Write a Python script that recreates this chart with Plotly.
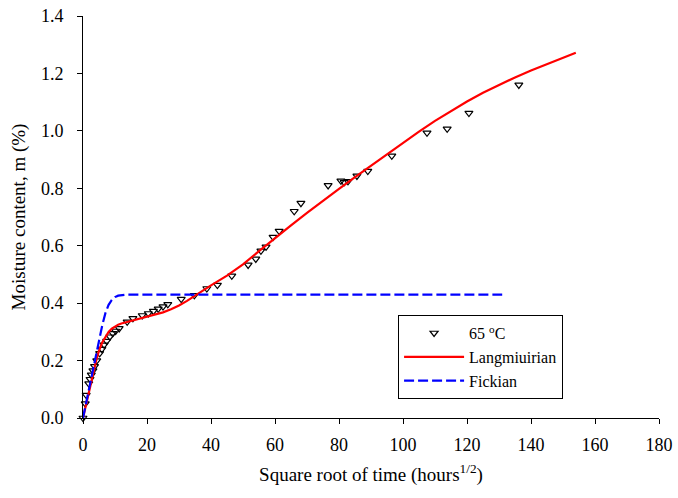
import plotly.graph_objects as go

# Measured data (65 °C)
data_x = [0, 0.7, 1.0, 1.8, 2.2, 2.6, 3.1, 3.6, 4.3, 5.2, 5.9, 6.6, 7.4, 8.4, 9.3, 10.2, 11.3,
          13.8, 15.6, 18.5, 20.4, 22.0, 23.5, 25.0, 26.5, 30.7, 34.8, 38.7, 42.0, 46.5, 51.6,
          54.0, 55.6, 57.2, 59.4, 61.3, 66.0, 68.1, 76.6, 80.6, 81.6, 82.8, 85.6, 89.0, 96.5,
          107.5, 113.8, 120.6, 136.2]
data_y = [0.0, 0.05, 0.08, 0.12, 0.135, 0.15, 0.165, 0.18, 0.20, 0.225, 0.24, 0.255, 0.268,
          0.283, 0.295, 0.303, 0.312, 0.335, 0.347, 0.357, 0.364, 0.372, 0.380, 0.388, 0.396,
          0.414, 0.427, 0.451, 0.463, 0.495, 0.533, 0.554, 0.582, 0.596, 0.630, 0.651, 0.720,
          0.748, 0.810, 0.826, 0.821, 0.824, 0.843, 0.860, 0.913, 0.993, 1.007, 1.062, 1.160]

# Langmuir model curve
lang_x = [0, 1, 2, 3, 4, 5, 6, 7, 8, 9, 10, 11, 12, 14, 16, 18, 20, 22.5, 25, 27.5, 30, 32.5,
          35, 37.5, 40, 45, 50, 55, 60, 65, 70, 75, 80, 85, 90, 95, 100, 105, 110, 115, 120,
          125, 130, 135, 140, 145, 150, 154]
lang_y = [0, 0.045, 0.095, 0.145, 0.195, 0.235, 0.263, 0.284, 0.300, 0.311, 0.319, 0.325,
          0.329, 0.335, 0.340, 0.345, 0.351, 0.359, 0.368, 0.379, 0.392, 0.408, 0.427, 0.445,
          0.462, 0.496, 0.535, 0.581, 0.627, 0.671, 0.714, 0.757, 0.798, 0.839, 0.879, 0.918,
          0.958, 0.997, 1.035, 1.070, 1.102, 1.133, 1.160, 1.186, 1.210, 1.232, 1.254, 1.272]

# Fickian model curve
fick_x = [0, 1, 2, 3, 4, 5, 6, 7, 8, 9, 10, 11, 12, 13, 14, 16, 131]
fick_y = [0, 0.055, 0.105, 0.16, 0.21, 0.265, 0.322, 0.365, 0.394, 0.411, 0.421, 0.426,
          0.428, 0.429, 0.43, 0.43, 0.43]

x_ticks = [0, 20, 40, 60, 80, 100, 120, 140, 160, 180]
y_ticks = [0.0, 0.2, 0.4, 0.6, 0.8, 1.0, 1.2, 1.4]

FONT = "Liberation Serif, Times New Roman, serif"

fig = go.Figure()
fig.add_trace(go.Scatter(
    x=data_x, y=data_y, mode="markers", name="65 <sup>o</sup>C",
    marker=dict(symbol="triangle-down-open", size=7, color="black",
                line=dict(width=1.2, color="black")),
    cliponaxis=False,
))
fig.add_trace(go.Scatter(
    x=lang_x, y=lang_y, mode="lines", name="Langmiuirian",
    line=dict(color="#ff0000", width=2.2),
))
fig.add_trace(go.Scatter(
    x=fick_x, y=fick_y, mode="lines", name="Fickian",
    line=dict(color="#0000ff", width=2.2, dash="10px,4px"),
))

axis_common = dict(
    showline=True, linecolor="black", linewidth=1, mirror=False,
    ticks="outside", ticklen=5, tickwidth=1, tickcolor="black",
    showgrid=False, zeroline=False, automargin=False,
    tickfont=dict(family=FONT, size=18, color="black"),
)

fig.update_layout(
    template="none",
    width=678, height=498,
    margin=dict(l=83, r=19, t=16, b=80),
    paper_bgcolor="white", plot_bgcolor="white",
    font=dict(family=FONT, size=17, color="black"),
    xaxis=dict(range=[0, 180], tickvals=x_ticks, ticktext=[str(v) for v in x_ticks],
               ticklabelstandoff=5,
               title=dict(text="Square root of time (hours<sup>1/2</sup>)",
                          font=dict(family=FONT, size=19), standoff=14),
               **axis_common),
    yaxis=dict(range=[0, 1.4], tickvals=y_ticks, ticktext=[f"{v:.1f}" for v in y_ticks],
               ticklabelstandoff=10,
               title=dict(text="Moisture content, m (%)", font=dict(family=FONT, size=19),
                          standoff=10),
               **axis_common),
    legend=dict(x=0.547, y=0.256, xanchor="left", yanchor="top",
                bgcolor="white", bordercolor="black", borderwidth=1,
                font=dict(family=FONT, size=16), itemwidth=60,
                tracegroupgap=0),
    showlegend=True,
)

fig.write_html("out.html")
